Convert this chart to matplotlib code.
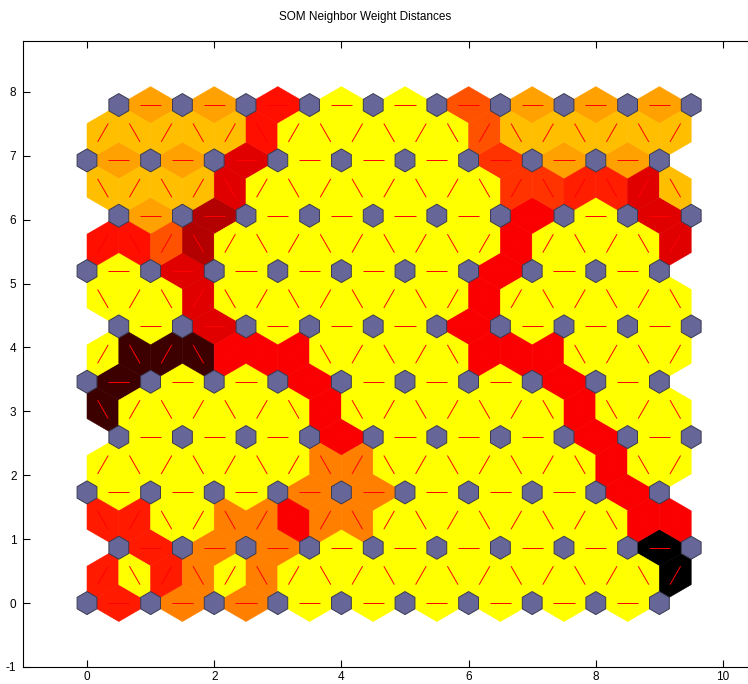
import numpy as np
import matplotlib
matplotlib.use('Agg')
import matplotlib.pyplot as plt
from matplotlib.collections import PolyCollection, LineCollection

plt.rcParams['font.family'] = ['Liberation Sans', 'DejaVu Sans']

n_cols, n_rows = 10, 10

# normalized neighbor weight distances (0 = close/yellow, 1 = far/black)
# horizontal edges: one row per neuron row, column c -> c+1
horiz_dist = [
    [0.45, 0.25, 0.25, 0, 0, 0, 0, 0, 0],              # row 0
    [0.45, 0.25, 0.25, 0, 0, 0, 0, 0, 1.0],            # row 1
    [0, 0, 0, 0.25, 0.25, 0, 0, 0, 0.51],              # row 2
    [0, 0, 0, 0.51, 0, 0, 0, 0.51, 0],                 # row 3
    [0.88, 0, 0, 0.51, 0, 0, 0, 0.51, 0],              # row 4
    [0, 0.56, 0, 0, 0, 0.51, 0, 0, 0],                 # row 5
    [0, 0.56, 0, 0, 0, 0, 0.51, 0, 0],                 # row 6
    [0.185, 0.65, 0, 0, 0, 0, 0.51, 0, 0.56],          # row 7
    [0.185, 0.185, 0.56, 0, 0, 0, 0.40, 0.185, 0.185],  # row 8
    [0.185, 0.185, 0.47, 0, 0, 0.34, 0.185, 0.185, 0.185],  # row 9
]

# diagonal edges between row r and r+1, left to right (x = 0.25, 0.75, ... 9.25)
diag_dist = [
    [0.45, 0, 0.45, 0.25, 0, 0.25, 0, 0, 0, 0, 0, 0, 0, 0, 0, 0, 0, 0, 1.0],
    [0.45, 0.45, 0, 0, 0.25, 0.25, 0.51, 0.25, 0.25, 0, 0, 0, 0, 0, 0, 0, 0, 0.51, 0.51],
    [0, 0, 0, 0, 0, 0, 0, 0.25, 0.25, 0, 0, 0, 0, 0, 0, 0, 0.51, 0, 0],
    [0.88, 0, 0, 0, 0, 0, 0, 0.51, 0, 0, 0, 0, 0, 0, 0, 0.51, 0, 0, 0],
    [0, 0.88, 0.88, 0.88, 0.51, 0.51, 0.51, 0, 0, 0, 0, 0, 0.51, 0.51, 0.51, 0, 0, 0, 0],
    [0, 0, 0, 0.56, 0, 0, 0, 0, 0, 0, 0, 0, 0.51, 0, 0, 0, 0, 0, 0],
    [0.47, 0.47, 0.34, 0.65, 0, 0, 0, 0, 0, 0, 0, 0, 0, 0.51, 0, 0, 0, 0, 0.56],
    [0.125, 0.125, 0.125, 0.125, 0.56, 0, 0, 0, 0, 0, 0, 0, 0, 0.40, 0.40, 0.44, 0.44, 0.56, 0.125],
    [0.125, 0.125, 0.125, 0.125, 0.125, 0.47, 0, 0, 0, 0, 0, 0, 0.34, 0.125, 0.125, 0.125, 0.125, 0.125, 0.125],
]

x_ticks = [0, 2, 4, 6, 8, 10]
y_ticks = [-1, 0, 1, 2, 3, 4, 5, 6, 7, 8]


def neuron_pos(r, c):
    return np.array([c + 0.5 * (r % 2), r * np.sqrt(0.75)])


def dist_color(d):
    level = 1 - d
    return (min(2 * level, 1), max(2 * level - 1, 0), 0)


# collect edges (pairs of neurons) with their distance
edges = []
for r in range(n_rows):
    for c in range(n_cols - 1):
        edges.append((neuron_pos(r, c), neuron_pos(r, c + 1), horiz_dist[r][c]))
for r in range(n_rows - 1):
    lo_row = [neuron_pos(r, c) for c in range(n_cols)]
    hi_row = [neuron_pos(r + 1, c) for c in range(n_cols)]
    for k in range(2 * n_cols - 1):
        xm = 0.25 + 0.5 * k
        p1 = min(lo_row, key=lambda p: abs(p[0] - xm))
        p2 = min(hi_row, key=lambda p: abs(p[0] - xm))
        edges.append((p1, p2, diag_dist[r][k]))

half_w = 0.5 * np.tan(np.radians(30))
polys, cols, segs = [], [], []
for p1, p2, d in edges:
    u = p2 - p1
    n = np.array([-u[1], u[0]]) / np.linalg.norm(u)
    mid = (p1 + p2) / 2
    polys.append([p1, mid + n * half_w, p2, mid - n * half_w])
    cols.append(dist_color(d))
    segs.append([p1 + u / 3, p1 + 2 * u / 3])

fig = plt.figure(figsize=(7.48, 6.84), dpi=100)
ax = fig.add_axes([0.0313, 0.0249, 0.9778, 0.9149])

ax.add_collection(PolyCollection(polys, facecolors=cols, edgecolors=cols, linewidths=0.4, zorder=1))
ax.add_collection(LineCollection(segs, colors='red', linewidths=0.7, zorder=2))

# neurons
ang = np.radians([90, 150, 210, 270, 330, 30])
hex_r = 0.18
neurons = []
for r in range(n_rows):
    for c in range(n_cols):
        p = neuron_pos(r, c)
        neurons.append(np.column_stack([p[0] + hex_r * np.cos(ang), p[1] + hex_r * np.sin(ang)]))
ax.add_collection(PolyCollection(neurons, facecolors=(0.4, 0.4, 0.6), edgecolors='#3a3a50',
                                 linewidths=0.7, zorder=3))

ax.set_xlim(-1, 10.5)
ax.set_ylim(-1, 7.794 + 1)
ax.set_xticks(x_ticks)
ax.set_yticks(y_ticks)
ax.set_yticklabels([str(v) for v in y_ticks])
ax.tick_params(direction='in', top=True, right=True, length=5, labelsize=8.5, width=0.8)
ax.tick_params(axis='x', pad=3)
ax.tick_params(axis='y', pad=5)
for s in ax.spines.values():
    s.set_linewidth(0.8)

fig.text(0.488, 1 - 17 / 684, 'SOM Neighbor Weight Distances', ha='center', va='center', fontsize=8.5)

fig.savefig('out.png', dpi=100)
